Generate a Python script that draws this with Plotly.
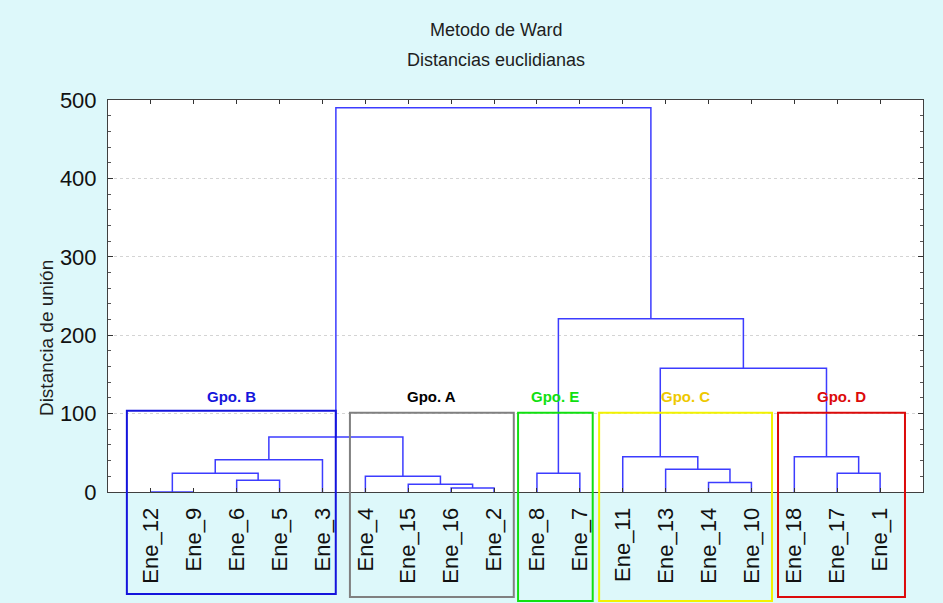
import plotly.graph_objects as go

# Leaf order along the horizontal axis
leaves = ["Ene_12", "Ene_9", "Ene_6", "Ene_5", "Ene_3",
          "Ene_4", "Ene_15", "Ene_16", "Ene_2",
          "Ene_8", "Ene_7",
          "Ene_11", "Ene_13", "Ene_14", "Ene_10",
          "Ene_18", "Ene_17", "Ene_1"]

# Ward linkage steps: node k is named "m{k}"
merge_left = ["Ene_12", "Ene_6", "m0", "m2",
              "Ene_16", "Ene_15", "Ene_4", "m3",
              "Ene_8", "Ene_14", "Ene_13", "Ene_11",
              "Ene_17", "Ene_18", "m11", "m8", "m7"]
merge_right = ["Ene_9", "Ene_5", "m1", "Ene_3",
               "Ene_2", "m4", "m5", "m6",
               "Ene_7", "Ene_10", "m9", "m10",
               "Ene_1", "m12", "m13", "m14", "m15"]
merge_height = [0, 15, 24, 41,
                5, 10, 20, 70,
                24, 12, 29, 45,
                24, 45, 158, 221, 490]

# Groups (first and last member leaf)
group_names = ["Gpo. B", "Gpo. A", "Gpo. E", "Gpo. C", "Gpo. D"]
group_first = ["Ene_12", "Ene_4", "Ene_8", "Ene_11", "Ene_18"]
group_last = ["Ene_3", "Ene_2", "Ene_7", "Ene_10", "Ene_1"]

# Styling for the group frames and captions
group_colors = ["#1414dc", "#808080", "#10e010", "#f2f200", "#dc0a0a"]
label_colors = ["#1414dc", "#000000", "#10e010", "#eec800", "#dc0a0a"]
pad_left = [0.56, 0.36, 0.44, 0.55, 0.38]
pad_right = [0.31, 0.46, 0.30, 0.48, 0.58]
box_top = [0.207, 0.202, 0.202, 0.202, 0.202]
box_bottom = [-0.260, -0.268, -0.278, -0.278, -0.268]
label_y = 122

FONT = "Arial, Liberation Sans"

pos = {name: i + 1 for i, name in enumerate(leaves)}
hgt = {name: 0.0 for name in leaves}
xs, ys = [], []
for k, (a, b, h) in enumerate(zip(merge_left, merge_right, merge_height)):
    xa, xb = pos[a], pos[b]
    xs += [xa, xa, xb, xb, None]
    ys += [hgt[a], h, h, hgt[b], None]
    pos[f"m{k}"] = (xa + xb) / 2
    hgt[f"m{k}"] = h

fig = go.Figure()
fig.add_trace(go.Scatter(x=xs, y=ys, mode="lines",
                         line=dict(color="#3c3cff", width=1.5),
                         hoverinfo="skip", showlegend=False))

shapes = []
annotations = []
for i, name in enumerate(group_names):
    x0 = pos[group_first[i]] - pad_left[i]
    x1 = pos[group_last[i]] + pad_right[i]
    shapes.append(dict(type="rect", xref="x", yref="paper",
                       x0=x0, x1=x1, y0=box_bottom[i], y1=box_top[i],
                       line=dict(color=group_colors[i], width=2),
                       fillcolor="rgba(0,0,0,0)", layer="above"))
    annotations.append(dict(text=f"<b>{name}</b>", xref="x", yref="y",
                            x=(x0 + x1) / 2, y=label_y,
                            showarrow=False,
                            font=dict(family=FONT, size=15, color=label_colors[i])))

annotations += [
    dict(text="Metodo de Ward", xref="paper", yref="paper", x=0.476, y=1.179,
         yanchor="middle", showarrow=False,
         font=dict(family=FONT, size=18, color="#1e1e1e")),
    dict(text="Distancias euclidianas", xref="paper", yref="paper", x=0.476, y=1.102,
         yanchor="middle", showarrow=False,
         font=dict(family=FONT, size=18, color="#1e1e1e")),
    dict(text="Distancia de unión", xref="paper", yref="paper", x=-0.09, y=0.393,
         textangle=-90, showarrow=False,
         font=dict(family=FONT, size=19, color="#1e1e1e")),
]

fig.update_layout(
    width=943, height=603,
    margin=dict(l=108, r=20, t=100, b=111),
    paper_bgcolor="#ddf8fa", plot_bgcolor="#ffffff",
    shapes=shapes, annotations=annotations,
    showlegend=False,
)
fig.update_xaxes(range=[0, 19], tickvals=list(range(1, len(leaves) + 1)),
                 ticktext=leaves, tickangle=-90,
                 ticks="inside", ticklen=4, tickcolor="#333333",
                 showline=True, linecolor="#404040", linewidth=1, mirror="ticks",
                 showgrid=False, zeroline=False, ticklabelstandoff=6,
                 tickfont=dict(family=FONT, size=22, color="#111111"))
fig.update_yaxes(range=[0, 500], tickvals=[0, 100, 200, 300, 400, 500],
                 ticks="inside", ticklen=5, tickcolor="#333333",
                 minor=dict(dtick=20, ticks="inside", ticklen=3, tickcolor="#555555", showgrid=False),
                 showline=True, linecolor="#404040", linewidth=1, mirror="ticks",
                 showgrid=True, gridcolor="#d4d4d4", griddash="dot", gridwidth=1,
                 zeroline=False, ticklabelstandoff=6,
                 tickfont=dict(family=FONT, size=22, color="#111111"))

fig.write_html("out.html")
